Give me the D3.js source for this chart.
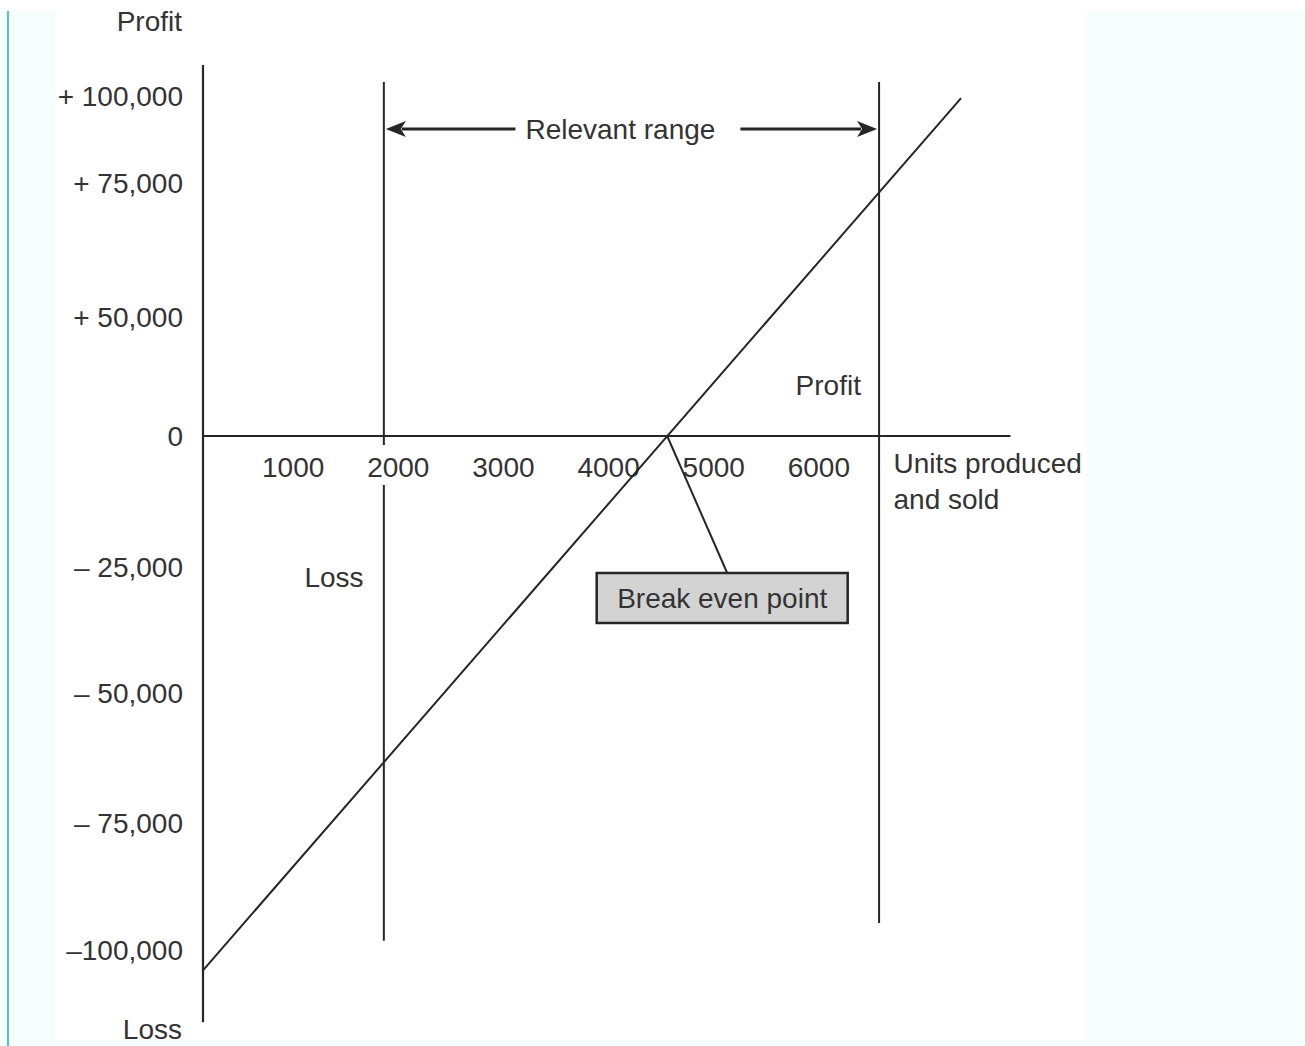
<!DOCTYPE html>
<html>
<head>
<meta charset="utf-8">
<script src="https://cdn.jsdelivr.net/npm/d3@7"></script>
<style>
  html, body { margin: 0; padding: 0; background: #ffffff; }
  #frame { position: absolute; left: 0; top: 11px; width: 1305px; height: 1035px; background: #f6fdfd; }
  #bar { position: absolute; left: 7px; top: 11px; width: 2px; height: 1035px; background: #52c7b4; }
  svg { position: absolute; left: 0; top: 0; }
  text { font-family: "Liberation Sans", Arial, Helvetica, sans-serif; font-size: 28px; fill: #333; }
</style>
</head>
<body>
<div id="frame"></div>
<div id="bar"></div>
<svg id="chart" width="1305" height="1046"></svg>
<script>
// ---- data ----
const xTickValues = [1000, 2000, 3000, 4000, 5000, 6000];
const xTickLabels = ["1000", "2000", "3000", "4000", "5000", "6000"];
const yTickValues = [100000, 75000, 50000, 0, -25000, -50000, -75000, -100000];
const yTickLabels = ["+ 100,000", "+ 75,000", "+ 50,000", "0", "\u2013 25,000", "\u2013 50,000", "\u2013 75,000", "\u2013100,000"];
const profitUnits = [0, 7210];
const profitValues = [-104000, 99400];
const relevantRangeUnits = [1720, 6430];
const relevantRangeTop = [104000, 104000];
const relevantRangeBottom = [-98200, -94700];
const breakEvenUnits = 4415;
const breakEvenProfit = 0;
const xAxisExtent = [0, 7680];
const yAxisExtent = [-114200, 108900];

// ---- scales ----
const svg = d3.select("#chart");
svg.append("rect").attr("x", 55).attr("y", 11).attr("width", 1032).attr("height", 1029).attr("fill", "#ffffff");

const x = d3.scaleLinear().domain([0, 7000]).range([203, 939]);
const y = d3.scaleLinear()
  .domain([-100000, -75000, -50000, -25000, 0, 50000, 75000, 100000])
  .range([950, 823, 693, 567, 436, 317, 183, 96]);

const ink = "#262626";
const g = svg.append("g");

// y axis line
g.append("line").attr("x1", x(0)).attr("x2", x(0))
  .attr("y1", y(yAxisExtent[1])).attr("y2", y(yAxisExtent[0]))
  .attr("stroke", ink).attr("stroke-width", 2.2);
// x axis line
g.append("line").attr("x1", x(xAxisExtent[0])).attr("x2", x(xAxisExtent[1]))
  .attr("y1", y(0)).attr("y2", y(0))
  .attr("stroke", ink).attr("stroke-width", 2);

// y tick labels
g.selectAll("text.ytick").data(yTickValues).enter().append("text")
  .attr("class", "ytick")
  .attr("x", x(0) - 20).attr("y", d => y(d))
  .attr("text-anchor", "end").attr("dominant-baseline", "central")
  .text((d, i) => yTickLabels[i]);

// x tick labels
g.selectAll("text.xtick").data(xTickValues).enter().append("text")
  .attr("class", "xtick")
  .attr("x", d => x(d) - 15).attr("y", y(0) + 31)
  .attr("text-anchor", "middle").attr("dominant-baseline", "central")
  .text((d, i) => xTickLabels[i]);

// axis end labels
g.append("text").attr("x", 182).attr("y", 21).attr("text-anchor", "end")
  .attr("dominant-baseline", "central").text("Profit");
g.append("text").attr("x", 182).attr("y", 1029).attr("text-anchor", "end")
  .attr("dominant-baseline", "central").text("Loss");
g.append("text").attr("x", x(xAxisExtent[1]) - 117).attr("y", y(0) + 27)
  .attr("dominant-baseline", "central").text("Units produced");
g.append("text").attr("x", x(xAxisExtent[1]) - 117).attr("y", y(0) + 63)
  .attr("dominant-baseline", "central").text("and sold");

// relevant range vertical lines (left one has a gap around the 2000 label)
const xl = x(relevantRangeUnits[0]), xr = x(relevantRangeUnits[1]);
g.append("line").attr("x1", xl).attr("x2", xl)
  .attr("y1", y(relevantRangeTop[0])).attr("y2", y(0) + 9)
  .attr("stroke", ink).attr("stroke-width", 2);
g.append("line").attr("x1", xl).attr("x2", xl)
  .attr("y1", y(0) + 49).attr("y2", y(relevantRangeBottom[0]))
  .attr("stroke", ink).attr("stroke-width", 2);
g.append("line").attr("x1", xr).attr("x2", xr)
  .attr("y1", y(relevantRangeTop[1])).attr("y2", y(relevantRangeBottom[1]))
  .attr("stroke", ink).attr("stroke-width", 2);

// relevant range arrows + label
const ay = y(90500);
const rl = g.append("text").attr("x", x(3970)).attr("y", ay)
  .attr("text-anchor", "middle").attr("dominant-baseline", "central").text("Relevant range");
const bb = rl.node().getBBox();
const head = 20, hw = 8;
g.append("line").attr("x1", xl + head - 2).attr("x2", bb.x - 10).attr("y1", ay).attr("y2", ay)
  .attr("stroke", ink).attr("stroke-width", 3);
g.append("path").attr("d", `M${xl + 2},${ay} L${xl + 2 + head},${ay - hw} L${xl + 2 + head - 5},${ay} L${xl + 2 + head},${ay + hw} Z`).attr("fill", ink);
g.append("line").attr("x1", bb.x + bb.width + 25).attr("x2", xr - head + 2).attr("y1", ay).attr("y2", ay)
  .attr("stroke", ink).attr("stroke-width", 3);
g.append("path").attr("d", `M${xr - 2},${ay} L${xr - 2 - head},${ay - hw} L${xr - 2 - head + 5},${ay} L${xr - 2 - head},${ay + hw} Z`).attr("fill", ink);

// profit line
const line = d3.line().x(d => x(d[0])).y(d => y(d[1]));
g.append("path").datum(profitUnits.map((u, i) => [u, profitValues[i]]))
  .attr("d", line).attr("fill", "none").attr("stroke", ink).attr("stroke-width", 2);

// region labels
g.append("text").attr("x", x(5947)).attr("y", y(21400)).attr("text-anchor", "middle")
  .attr("dominant-baseline", "central").text("Profit");
g.append("text").attr("x", x(1246)).attr("y", y(-27000)).attr("text-anchor", "middle")
  .attr("dominant-baseline", "central").text("Loss");

// break even callout
const bx = x(4938), by = y(-31150);
const bw = 251, bh = 50;
g.append("line").attr("x1", x(breakEvenUnits)).attr("y1", y(breakEvenProfit))
  .attr("x2", bx + 5).attr("y2", by - bh / 2)
  .attr("stroke", ink).attr("stroke-width", 2);
g.append("rect").attr("x", bx - bw / 2).attr("y", by - bh / 2).attr("width", bw).attr("height", bh)
  .attr("fill", "#d3d3d3").attr("stroke", ink).attr("stroke-width", 2.5);
g.append("text").attr("x", bx).attr("y", by + 1).attr("text-anchor", "middle")
  .attr("dominant-baseline", "central").text("Break even point");
</script>
</body>
</html>
